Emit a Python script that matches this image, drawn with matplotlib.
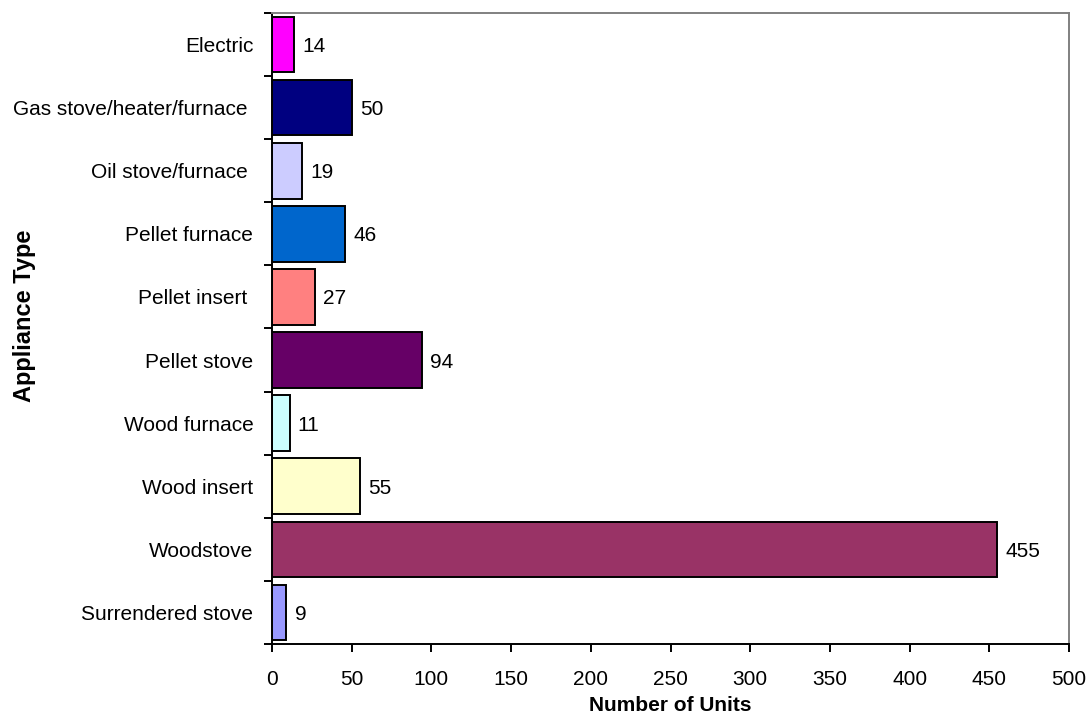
import numpy as np
import matplotlib
matplotlib.use("Agg")
import matplotlib.pyplot as plt

plt.rcParams['font.family'] = ['Liberation Sans', 'DejaVu Sans']

# appliance types, listed top to bottom
types = ["Electric", "Gas stove/heater/furnace ", "Oil stove/furnace ", "Pellet furnace",
         "Pellet insert ", "Pellet stove", "Wood furnace", "Wood insert",
         "Woodstove", "Surrendered stove"]
units = [14, 50, 19, 46, 27, 94, 11, 55, 455, 9]
colors = ["#FF00FF", "#000080", "#CCCCFF", "#0066CC", "#FF8080",
          "#660066", "#CCFFFF", "#FFFFCC", "#993366", "#9999FF"]
xticks = [0, 50, 100, 150, 200, 250, 300, 350, 400, 450, 500]

fig = plt.figure(figsize=(10.89, 7.15), dpi=100)
ax = fig.add_axes([272/1089, 1-644/715, (1069-272)/1089, (644-13)/715])

y = np.arange(len(types))
ax.barh(y, units, height=0.88, color=colors, edgecolor="black", linewidth=1.4)

for yi, v in zip(y, units):
    ax.annotate(str(v), (v, yi), xytext=(6, 0), textcoords="offset points",
                va="center_baseline", ha="left", fontsize=15)

ax.set_xlim(0, 500)
ax.set_ylim(len(types) - 0.5, -0.5)
ax.set_xticks(xticks)
ax.set_xticklabels([str(t) for t in xticks], fontsize=15)
ax.set_yticks(y)
ax.set_yticklabels(types, fontsize=15, va="center_baseline")
ax.tick_params(axis="y", length=0, pad=13.5)
ax.set_yticks(np.arange(-0.5, len(types)), minor=True)
ax.tick_params(axis="y", which="minor", length=6, width=1.4, direction="out")
ax.tick_params(axis="x", length=6, width=1.4, direction="out", pad=13)

for side in ["left", "bottom"]:
    ax.spines[side].set_color("black")
    ax.spines[side].set_linewidth(1.4)
for side in ["top", "right"]:
    ax.spines[side].set_color("#808080")
    ax.spines[side].set_linewidth(1.4)

ax.set_xlabel("Number of Units", fontsize=15, fontweight="bold", labelpad=5)
fig.text(25/1089, 1-316/715, "Appliance Type", rotation=90, fontsize=17,
         fontweight="bold", ha="center", va="center")

fig.savefig("out.png", dpi=100)
